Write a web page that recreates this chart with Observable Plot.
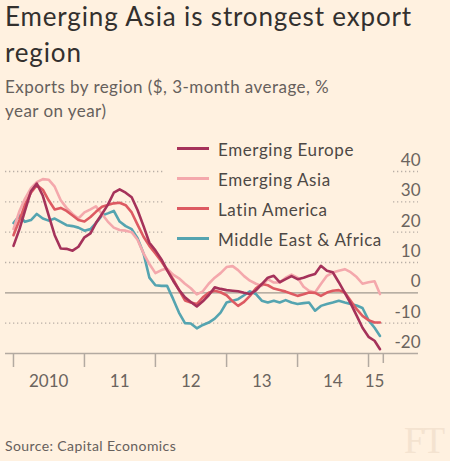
<!DOCTYPE html>
<html><head><meta charset="utf-8">
<script src="https://cdn.jsdelivr.net/npm/d3@7"></script>
<script src="https://cdn.jsdelivr.net/npm/@observablehq/plot@0.6"></script>
<style>
html,body{margin:0;padding:0;background:#fff1e0;}
#wrap{position:relative;width:450px;height:461px;overflow:hidden;background:#fff1e0;font-family:Lato,"Open Sans",sans-serif;}
#title{position:absolute;left:5px;top:-2px;font-size:26px;line-height:36px;color:#33302e;white-space:nowrap;letter-spacing:0.85px;}
#subtitle{position:absolute;left:5px;top:75px;font-size:17px;line-height:24px;color:#66605c;white-space:nowrap;letter-spacing:0.45px;}
#chart{position:absolute;left:0;top:130px;}
#legendbg{position:absolute;left:163px;top:135px;width:229px;height:115px;background:#fff1e0;}
#legend{position:absolute;left:177px;top:135px;}
.row{position:relative;height:30px;line-height:30px;font-size:17px;color:#4d4845;padding-left:41px;white-space:nowrap;letter-spacing:0.6px;}
.sw{position:absolute;left:0;top:12px;width:32px;height:3px;}
#source{position:absolute;left:5px;top:437px;font-size:14px;color:#66605c;white-space:nowrap;letter-spacing:0.4px;}
#ft{position:absolute;left:404px;top:422px;font-family:"Liberation Serif","DejaVu Serif",serif;font-size:37px;line-height:37px;color:#f4e3d0;letter-spacing:-2px;}
</style></head>
<body>
<div id="wrap">
  <div id="title">Emerging Asia is strongest export<br>region</div>
  <div id="subtitle">Exports by region ($, 3-month average, %<br>year on year)</div>
  <div id="chart"></div>
  <div id="legendbg"></div>
  <div id="legend"></div>
  <div id="source">Source: Capital Economics</div>
  <div id="ft">FT</div>
</div>
<script>
// Monthly values, Jan 2010 .. Mar 2015 (% y/y, 3-month average)
const seriesNames = ["Emerging Europe", "Emerging Asia", "Latin America", "Middle East & Africa"];
const seriesColors = ["#a5325a", "#f4a8ac", "#dd5a62", "#55a4b0"];

const europe = [15.5, 21, 27, 33.5, 36, 32, 25.5, 19, 14.6, 14.5, 13.9, 15.2,
  18.3, 19.6, 23, 26, 29, 33, 34.1, 33, 31.5, 27.3, 22, 16.5,
  14, 11, 7.5, 4, 1, -1.5, -3, -4.5, -2.8, -0.8, 1.8, 1.3,
  0.9, 0.7, 0.5, 0, -0.4, 0.8, 2.9, 5, 5.6, 3.5, 4.5, 5.5,
  4.5, 5, 5.6, 6.2, 8.9, 7.3, 6.8, 3.5, 0, -3.5, -7.5, -11.5,
  -14.5, -15.8, -18.6];

const asia = [21, 27, 31, 34.5, 36.5, 37.5, 37.3, 35, 30.5, 28, 26, 24.5,
  26.5, 27.5, 28.5, 26, 23.5, 21.5, 20.7, 20.5, 20, 17.5, 13, 9.5,
  6.5, 7.5, 8, 6, 4.8, 3, 1.5, -0.5, 0.5, 3, 5, 6.5,
  8.5, 8.8, 7.5, 5.5, 4, 3, 2.3, 4.5, 3.4, 3.4, 5, 6,
  5, 2, 0.7, 0.1, 2.9, 5.6, 6.7, 7.3, 7.8, 6.8, 5.2, 3,
  3.5, 3.8, -0.4];

const latam = [19, 24, 29, 33, 35.5, 34, 30.5, 27.5, 28, 27, 25.5, 24,
  23.5, 25, 26.7, 28.4, 29, 29.5, 29.7, 28.9, 26.5, 22.5, 18.5, 15.5,
  13, 10.3, 7.5, 4.5, 1, -2.5, -3.2, -3.7, -1.5, 0, 0.7, 0.2,
  -0.8, -2.8, -4.3, -3, -1, 1.5, 2.9, 2.5, 1.4, 0.9, 0.4, -0.3,
  -1, -0.5, 0.1, 0, -1, 0.1, 0.7, 0.9, 0.1, -2.6, -5.4, -7.6,
  -9, -9.8, -9.8];

const mea = [23, 25.5, 23.4, 24, 26, 24.5, 23.8, 24.5, 23.4, 22.3, 22, 21.5,
  20.5, 21, 23, 25.5, 26.2, 27, 23.5, 22, 21, 18, 13, 5,
  2.5, 2.3, 2.3, -2, -6.5, -10, -10.1, -11.7, -10.6, -9.8, -8.5, -6.5,
  -3.2, -2.6, -2.1, -0.8, 0.5, -0.4, -2.6, -3.2, -2.6, -3.2, -2.4, -3.2,
  -3.7, -3.4, -3.2, -5.9, -4.3, -3.7, -3.2, -2.6, -3.2, -3.7, -4.2, -5,
  -9, -11.5, -14.2];

const yTicks = [40, 30, 20, 10, 0, -10, -20];
const xTickLabels = ["2010", "11", "12", "13", "14", "15"];

const U = (y, m, d = 1) => new Date(Date.UTC(y, m, d));
const yearStarts = [2010, 2011, 2012, 2013, 2014, 2015].map(y => U(y, 0));
const labelPos = [U(2010, 6), U(2011, 6), U(2012, 6), U(2013, 6), U(2014, 6), U(2015, 1, 1)];
const labels = xTickLabels.map((t, i) => ({date: labelPos[i], text: t}));
const endTick = U(2015, 2, 18);

const valuesBySeries = [europe, asia, latam, mea];
const rows = [];
// drawing order: MEA, Asia, LatAm, Europe (top)
[3, 1, 2, 0].forEach(si => {
  valuesBySeries[si].forEach((v, i) => rows.push({date: U(2010, i), value: v, series: seriesNames[si]}));
});

const chart = Plot.plot({
  width: 450, height: 270,
  marginTop: 41, marginBottom: 47, marginLeft: 5, marginRight: 32,
  x: {type: "utc", domain: [U(2009, 10, 21), U(2015, 8, 15)], axis: null},
  y: {domain: [-20, 40], axis: null},
  color: {domain: seriesNames, range: seriesColors},
  style: {background: "transparent", fontFamily: "Lato, sans-serif", overflow: "visible"},
  marks: [
    Plot.ruleY(yTicks.filter(d => d !== 0 && d !== -20), {stroke: "#b9afa6", strokeWidth: 1.3, strokeDasharray: "1.3,2.7"}),
    Plot.ruleY([0], {stroke: "#a0988f", strokeWidth: 1.3}),
    Plot.ruleY([-20], {stroke: "#b3aaa1", strokeWidth: 1.5}),
    Plot.axisX({ticks: yearStarts, tickSize: 14, tickFormat: () => "", stroke: "#b3aaa1", strokeWidth: 1.5}),
    Plot.axisX({ticks: [endTick], tickSize: 10, tickFormat: () => "", stroke: "#b3aaa1", strokeWidth: 1.5}),
    Plot.text(labels, {x: "date", text: "text", frameAnchor: "bottom", dy: 33, fontSize: 17, fill: "#6b645e"}),
    Plot.text(yTicks, {y: d => d, text: d => String(d), frameAnchor: "right", textAnchor: "end", dx: 2, dy: -11, fontSize: 17, fill: "#6b645e"}),
    Plot.lineY(rows, {x: "date", y: "value", z: "series", stroke: "series", strokeWidth: 2.6})
  ]
});
document.getElementById("chart").appendChild(chart);

const legend = document.getElementById("legend");
seriesNames.forEach((n, i) => {
  const r = document.createElement("div");
  r.className = "row";
  r.innerHTML = `<span class="sw" style="background:${seriesColors[i]}"></span>${n}`;
  legend.appendChild(r);
});
</script>
</body></html>
